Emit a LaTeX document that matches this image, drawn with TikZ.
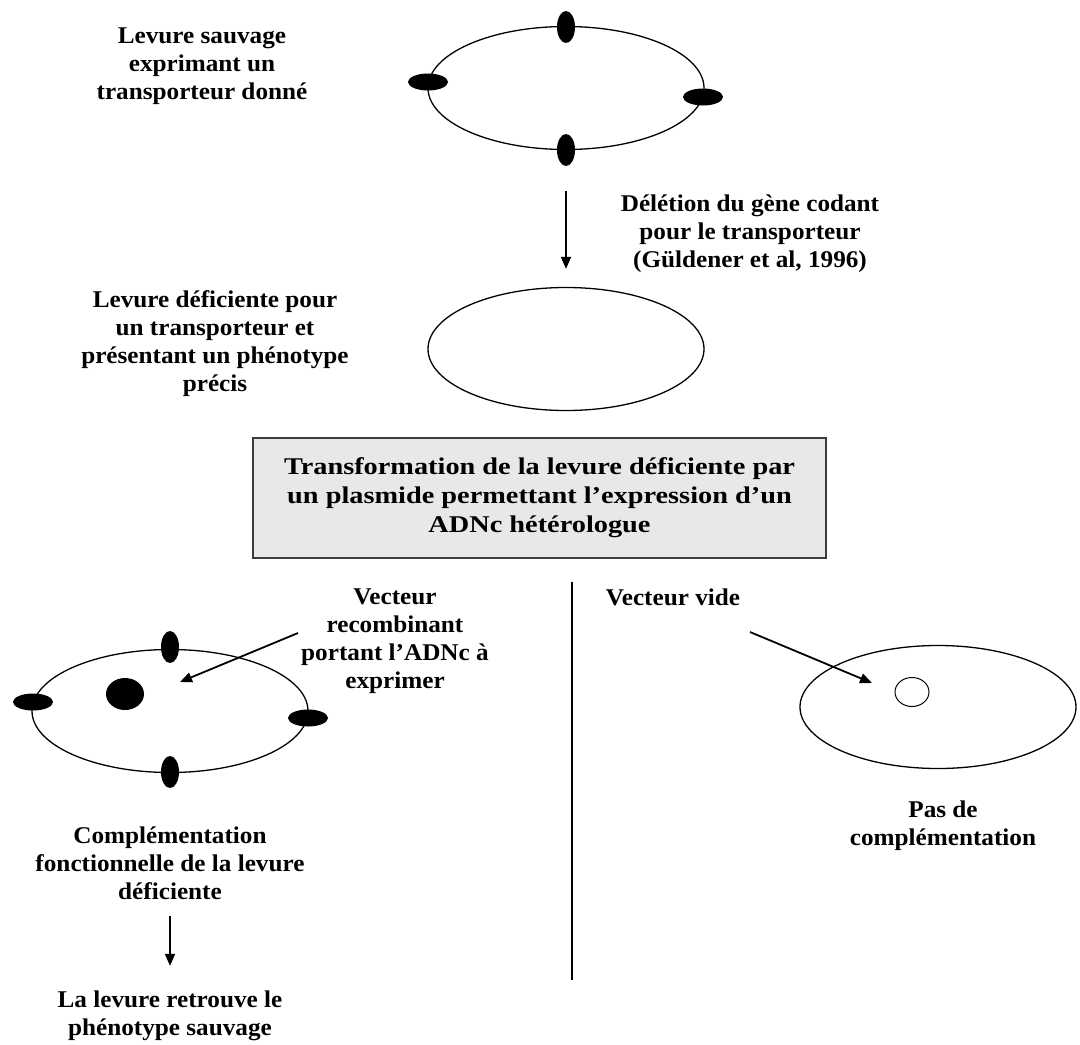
\documentclass[tikz,border=0pt]{standalone}
\usepackage{fontspec}
\setmainfont{Liberation Serif}[FakeStretch=1.05]
\newfontfamily\boxfont{Liberation Serif}[FakeStretch=1.18]
\usetikzlibrary{arrows.meta,shapes.geometric}
\definecolor{boxfill}{RGB}{232,232,232}
\definecolor{boxline}{RGB}{60,60,60}
\begin{document}
\begin{tikzpicture}[x=1pt,y=-1pt,
  lbl/.style={font=\fontsize{24}{28}\selectfont\bfseries, align=center, inner sep=0pt},
  boxlbl/.style={font=\boxfont\fontsize{24}{29}\selectfont\bfseries, align=center, inner sep=0pt},
  cell/.style={ellipse, draw, line width=1.3pt, inner sep=0pt, minimum width=276pt, minimum height=123pt},
  blobv/.style={ellipse, fill=black, inner sep=0pt, minimum width=18pt, minimum height=32pt},
  blobh/.style={ellipse, fill=black, inner sep=0pt, minimum width=40pt, minimum height=17pt},
  dot/.style={ellipse, fill=black, inner sep=0pt, minimum width=38pt, minimum height=32pt},
  ring/.style={ellipse, draw, line width=1pt, inner sep=0pt, minimum width=34pt, minimum height=29pt},
  arr/.style={line width=1.8pt, -{Triangle[length=12pt,width=10pt]}},
  plain/.style={line width=1.3pt}]
\useasboundingbox (0,0) rectangle (1080,1045);

% top: wild-type yeast
\node[lbl] (t1) at (202,66) {Levure sauvage\\exprimant un\\transporteur donné};
\node[cell] (cA) at (566,88) {};
\node[blobv] (cAn) at (566,27) {};
\node[blobv] (cAs) at (566,150) {};
\node[blobh] (cAw) at (428,82) {};
\node[blobh] (cAe) at (703,97) {};

% deletion arrow
\node[lbl] (t2) at (750,234) {Délétion du gène codant\\pour le transporteur\\(Güldener et al, 1996)};
\node[cell] (cB) at (566,349) {};
\draw[arr] ([yshift=-41pt]cA.south) -- ([yshift=18pt]cB.north);
\node[lbl] (t3) at (215,344) {Levure déficiente pour\\un transporteur et\\présentant un phénotype\\précis};

% transformation box
\node[draw=boxline, fill=boxfill, line width=1.6pt, minimum width=573pt, minimum height=120pt, inner sep=0pt] (box) at (539.5,498) {};
\node[boxlbl] (tb) at (box.center) {Transformation de la levure déficiente par\\un plasmide permettant l’expression d’un\\ADNc hétérologue};

% separator
\coordinate (vtop) at (572,582);
\coordinate (vbot) at (572,980);
\draw[plain] (vtop) -- (vbot);

% left branch
\node[lbl] (t4) at (395,641) {Vecteur\\recombinant\\portant l’ADNc à\\exprimer};
\node[cell] (cC) at (170,711) {};
\node[blobv] (cCn) at (170,647) {};
\node[blobv] (cCs) at (170,772) {};
\node[blobh] (cCw) at (33,702) {};
\node[blobh] (cCe) at (308,718) {};
\node[dot] (cCd) at (125,694) {};
\coordinate (aLs) at (298,633);
\coordinate (aLe) at (180,682);
\draw[arr] (aLs) -- (aLe);
\node[lbl] (t7) at (170,863) {Complémentation\\fonctionnelle de la levure\\déficiente};
\node[lbl] (t8) at (170,1016) {La levure retrouve le\\phénotype sauvage};
\draw[arr] ([yshift=-16pt]t7.south) -- ([yshift=25pt]t8.north);

% right branch
\node[lbl] (t5) at (673,597) {Vecteur vide};
\node[cell] (cD) at (938,707) {};
\node[ring] (cDr) at (912,692) {};
\coordinate (aRs) at (750,632);
\coordinate (aRe) at (872,683);
\draw[arr] (aRs) -- (aRe);
\node[lbl] (t6) at (943,826) {Pas de\\complémentation};
\end{tikzpicture}
\end{document}
